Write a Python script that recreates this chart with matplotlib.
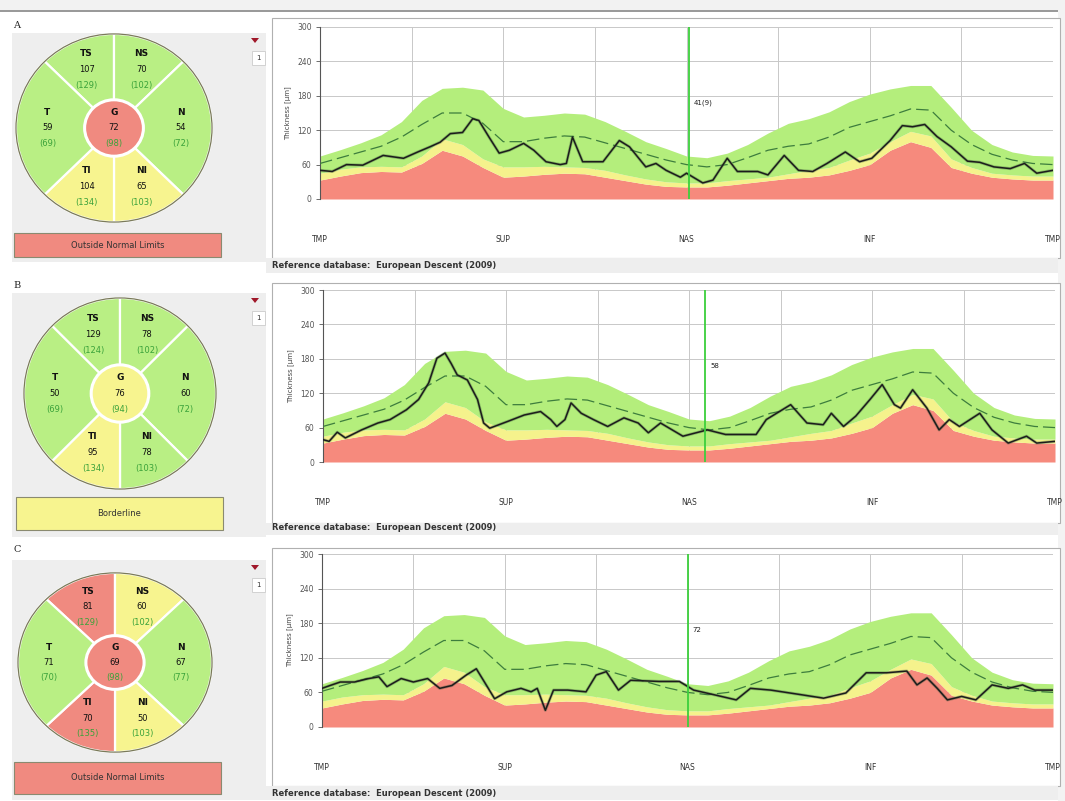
import matplotlib
matplotlib.use("Agg")
import matplotlib.pyplot as plt
from matplotlib.patches import Rectangle, Wedge, Circle, Polygon

W, H = 1065, 801

# ---- normative band (shared by the three panels), every 10 degrees ----
norm_deg = list(range(0, 361, 10))
p95 = [75, 86, 98, 112, 135, 172, 193, 195, 190, 158, 143, 146, 150, 148, 135, 118, 100, 88,
       75, 72, 80, 95, 115, 132, 140, 152, 170, 183, 192, 198, 198, 160, 120, 95, 82, 76, 75]
mean = [62, 72, 82, 92, 108, 130, 150, 150, 132, 100, 100, 106, 110, 108, 98, 88, 78, 68,
        60, 56, 60, 72, 85, 92, 96, 108, 125, 135, 145, 157, 155, 120, 95, 78, 68, 62, 60]
p5 = [45, 52, 56, 57, 56, 75, 105, 95, 70, 56, 56, 57, 56, 55, 50, 42, 35, 30,
      28, 28, 32, 35, 38, 44, 50, 55, 68, 80, 100, 118, 110, 70, 55, 45, 42, 40, 40]
p1 = [33, 40, 46, 48, 47, 62, 85, 75, 55, 38, 40, 43, 45, 44, 38, 32, 26, 22,
      21, 21, 24, 28, 32, 36, 38, 42, 50, 60, 85, 100, 90, 55, 45, 38, 35, 33, 33]

# ---- patient RNFL profiles ----
a_deg = [0, 6, 13, 21, 31, 41, 48, 54, 59, 64, 70, 75, 78, 83, 88, 93, 100, 105, 111, 118, 121,
         124, 129, 139, 147, 152, 160, 165, 170, 177, 180, 188, 193, 200, 205, 215, 220, 228, 235,
         242, 249, 258, 265, 271, 280, 286, 291, 297, 303, 310, 318, 324, 331, 339, 346, 352, 360]
a_val = [50, 48, 60, 59, 76, 71, 82, 91, 99, 114, 116, 140, 137, 108, 80, 85, 97, 85, 65, 60, 62,
         108, 65, 65, 102, 91, 56, 62, 50, 38, 45, 28, 33, 71, 48, 48, 42, 76, 50,
         48, 62, 82, 65, 71, 102, 128, 126, 130, 109, 91, 66, 64, 56, 53, 62, 45, 50]

b_deg = [0, 3, 7, 11, 19, 27, 33, 41, 47, 52, 56, 60, 63, 66, 71, 76, 79, 82, 91, 99, 107, 112,
         115, 119, 122, 127, 133, 140, 148, 155, 160, 166, 177, 189, 198, 213, 218, 230, 238, 246,
         250, 256, 262, 269, 275, 281, 284, 290, 297, 303, 308, 313, 323, 329, 337, 346, 351, 360]
b_val = [39, 36, 52, 42, 56, 68, 74, 91, 109, 138, 181, 190, 172, 152, 143, 109, 68, 59, 71, 82,
         88, 74, 62, 74, 103, 85, 74, 62, 77, 68, 51, 68, 45, 56, 48, 48, 74, 100, 68, 65,
         85, 62, 80, 109, 135, 100, 94, 126, 94, 56, 74, 62, 85, 56, 33, 45, 33, 36]

c_deg = [0, 4, 9, 16, 23, 28, 32, 39, 45, 52, 58, 64, 71, 76, 80, 85, 91, 98, 103, 106, 110, 114,
         121, 130, 135, 140, 146, 152, 166, 176, 183, 193, 204, 211, 221, 236, 247, 258, 268, 278,
         288, 293, 298, 303, 308, 315, 322, 330, 338, 345, 351, 360]
c_val = [67, 72, 78, 78, 84, 87, 70, 84, 78, 84, 67, 72, 90, 101, 78, 49, 61, 67, 61, 67, 29, 64,
         64, 61, 90, 96, 64, 81, 79, 79, 64, 56, 47, 67, 64, 56, 50, 59, 94, 94,
         97, 73, 85, 67, 47, 53, 47, 73, 67, 73, 64, 64]

panel_letters = ["A", "B", "C"]
marker_deg = [181, 188, 180]
marker_text = ["41(9)", "58", "72"]
status_text = ["Outside Normal Limits", "Borderline", "Outside Normal Limits"]

# sectors: label, value, normal, colour class
sector_names = ["TS", "NS", "N", "NI", "TI", "T", "G"]
sector_vals = [[107, 70, 54, 65, 104, 59, 72],
               [129, 78, 60, 78, 95, 50, 76],
               [81, 60, 67, 50, 70, 71, 69]]
sector_norm = [[129, 102, 72, 103, 134, 69, 98],
               [124, 102, 72, 103, 134, 69, 94],
               [129, 102, 77, 103, 135, 70, 98]]
sector_cls = [["g", "g", "g", "y", "y", "g", "r"],
              ["g", "g", "g", "g", "y", "g", "y"],
              ["r", "y", "g", "y", "r", "g", "r"]]

COL = {"g": "#b9ef84", "y": "#f7f48f", "r": "#f08a80"}
BAND_G, BAND_Y, BAND_R = "#b4ee7c", "#f5f28c", "#f68a7d"

# pixel layout of the three sections
chart_box = [(272, 18, 1060, 258), (272, 283, 1060, 523), (272, 548, 1060, 786)]
plot_box = [(320, 27, 1053, 199), (323, 290, 1055, 462), (322, 554, 1053, 727)]
ref_y = [266, 528, 793]
left_panel = [(12, 33, 266, 262), (12, 293, 266, 537), (12, 560, 266, 800)]
circle_box = [(15, 33, 213, 223), (23, 297, 217, 490), (17, 572, 213, 753)]
status_box = [(14, 233, 221, 257), (16, 497, 223, 530), (14, 762, 221, 794)]
letter_y = [26, 286, 550]

fig = plt.figure(figsize=(W / 100, H / 100), dpi=100)
fig.patch.set_facecolor("white")


def rect(x0, y0, x1, y1, **kw):
    r = Rectangle((x0 / W, 1 - y1 / H), (x1 - x0) / W, (y1 - y0) / H,
                  transform=fig.transFigure, **kw)
    fig.patches.append(r)
    return r


def ftext(x, y, s, **kw):
    fig.text(x / W, 1 - y / H, s, **kw)


def axes_px(x0, y0, x1, y1):
    a = fig.add_axes([x0 / W, 1 - y1 / H, (x1 - x0) / W, (y1 - y0) / H])
    a.set_zorder(10)
    return a


# outer frame
rect(0, 0, W, 10, facecolor="#f2f2f2", edgecolor="none", zorder=0)
rect(0, 10, W, 11.5, facecolor="#9a9a9a", edgecolor="none", zorder=0)
rect(1058, 10, W, H, facecolor="#f3f3f3", edgecolor="none", zorder=0)

patients = [(a_deg, a_val), (b_deg, b_val), (c_deg, c_val)]

for i in range(3):
    # header + left grey panel
    ftext(13, letter_y[i], panel_letters[i], family="DejaVu Serif", fontsize=7,
          va="center", ha="left", color="#222222")
    lp = left_panel[i]
    rect(*lp, facecolor="#eeeeee", edgecolor="none", zorder=0)
    # red triangle and small "1" box
    tri_y = lp[1] + 5
    fig.patches.append(Polygon([((251) / W, 1 - tri_y / H), (259 / W, 1 - tri_y / H),
                                (255 / W, 1 - (tri_y + 5) / H)], closed=True,
                               transform=fig.transFigure, facecolor="#a0182a", edgecolor="none"))
    rect(252, lp[1] + 18, 265, lp[1] + 32, facecolor="white", edgecolor="#cccccc", lw=0.6)
    ftext(258.5, lp[1] + 25, "1", fontsize=5, ha="center", va="center", color="#333333")

    # status box
    sb = status_box[i]
    cls = "r" if "Outside" in status_text[i] else "y"
    rect(*sb, facecolor=COL[cls], edgecolor="#8a8a70", lw=0.8)
    ftext((sb[0] + sb[2]) / 2, (sb[1] + sb[3]) / 2, status_text[i], fontsize=6,
          ha="center", va="center", color="#333333")

    # sector circle
    cb = circle_box[i]
    cax = axes_px(*cb)
    cax.set_xlim(-1.01, 1.01)
    cax.set_ylim(-1.01, 1.01)
    cax.axis("off")
    spans = {"TS": (90, 135), "NS": (45, 90), "N": (-45, 45), "NI": (-90, -45),
             "TI": (-135, -90), "T": (135, 225)}
    centers = {"TS": (-0.28, 0.62), "NS": (0.28, 0.62), "N": (0.68, 0.0),
               "NI": (0.28, -0.62), "TI": (-0.28, -0.62), "T": (-0.68, 0.0), "G": (0, 0)}
    for k, name in enumerate(sector_names):
        c = COL[sector_cls[i][k]]
        if name == "G":
            cax.add_patch(Circle((0, 0), 0.30, facecolor=c, edgecolor="white", lw=2.2, zorder=3))
        else:
            t1, t2 = spans[name]
            cax.add_patch(Wedge((0, 0), 1.0, t1, t2, facecolor=c, edgecolor="white",
                                lw=1.6, zorder=1))
        cx, cy = centers[name]
        cax.text(cx, cy + 0.17, name, fontsize=6.5, fontweight="bold", ha="center",
                 va="center", zorder=5, color="#111111")
        cax.text(cx, cy, str(sector_vals[i][k]), fontsize=6, ha="center", va="center",
                 zorder=5, color="#111111")
        cax.text(cx, cy - 0.17, "(%d)" % sector_norm[i][k], fontsize=6, ha="center",
                 va="center", zorder=5, color="#3aa23a")
    cax.add_patch(Circle((0, 0), 1.0, facecolor="none", edgecolor="#7a7a5a", lw=0.9, zorder=4))

    # chart frame and reference row
    bx = chart_box[i]
    rect(*bx, facecolor="white", edgecolor="#b0b0b0", lw=0.8, zorder=0)
    rect(266, bx[3], 1058, ref_y[i] + 7, facecolor="#eeeeee", edgecolor="none", zorder=0)
    ftext(272, ref_y[i], "Reference database:  European Descent (2009)", fontsize=6,
          fontweight="bold", ha="left", va="center", color="#333333")

    # profile chart
    ax = axes_px(*plot_box[i])
    ax.set_facecolor("none")
    ax.fill_between(norm_deg, 0, p1, color=BAND_R, lw=0, zorder=2)
    ax.fill_between(norm_deg, p1, p5, color=BAND_Y, lw=0, zorder=2)
    ax.fill_between(norm_deg, p5, p95, color=BAND_G, lw=0, zorder=2)
    ax.plot(norm_deg, mean, color="#3d7d3d", lw=0.9, dashes=(10, 4), zorder=3)
    pdeg, pval = patients[i]
    ax.plot(pdeg, pval, color="#3a5a3a", lw=2.2, alpha=0.35, zorder=4)
    ax.plot(pdeg, pval, color="#1c1c1c", lw=1.1, zorder=5)
    ax.axvline(marker_deg[i], color="#3ccf3c", lw=1.3, zorder=6)
    ax.text(marker_deg[i] + 2.5, 168, marker_text[i], fontsize=5, color="#222222",
            ha="left", va="center", zorder=7)

    ax.set_xlim(0, 360)
    ax.set_ylim(0, 300)
    ax.set_yticks(range(0, 301, 60))
    ax.set_xticks(range(0, 361, 45))
    ax.set_xticklabels(["TMP", "", "SUP", "", "NAS", "", "INF", "", "TMP"])
    ax.tick_params(axis="x", length=0, pad=26, labelsize=5.5, colors="#333333")
    ax.tick_params(axis="y", length=3, width=0.6, labelsize=5.5, colors="#555555", pad=3)
    ax.grid(True, color="#c8c8c8", lw=0.7, zorder=1)
    ax.set_axisbelow(True)
    for s in ["top", "right", "bottom"]:
        ax.spines[s].set_visible(False)
    ax.spines["left"].set_color("#555555")
    ax.spines["left"].set_linewidth(0.8)
    ax.set_ylabel("Thickness [µm]", fontsize=5, color="#444444", labelpad=4)

fig.savefig("out.png", dpi=100, facecolor=fig.get_facecolor())
